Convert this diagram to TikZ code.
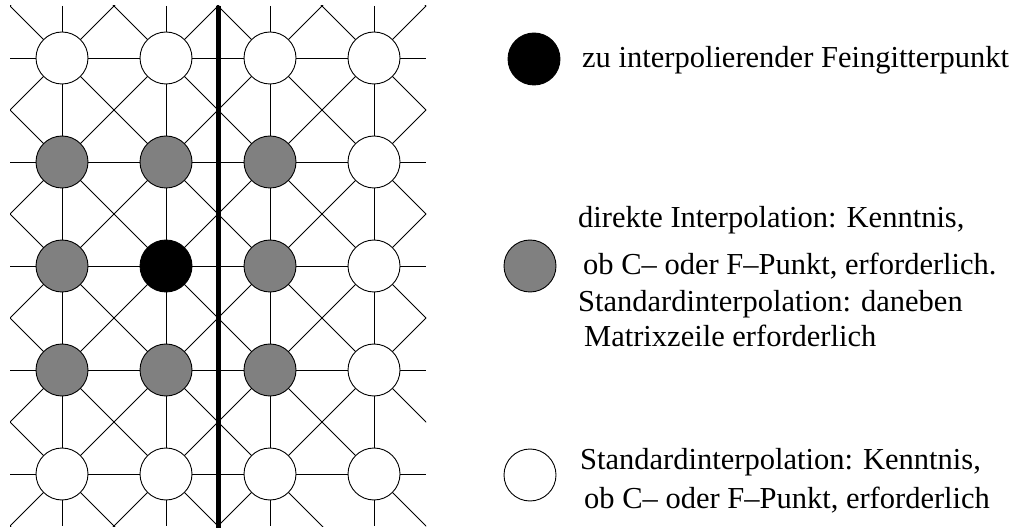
\documentclass[tikz,border=0pt]{standalone}
\usepackage{fontspec}
\setmainfont{Liberation Serif}
\definecolor{midgray}{RGB}{128,128,128}
\begin{document}
\begin{tikzpicture}[x=1pt,y=-1pt,
  gridline/.style={line width=0.9pt,black},
  pt/.style={circle,draw=black,line width=0.9pt,minimum size=52pt,inner sep=0pt},
  ptwhite/.style={pt,fill=white},
  ptgray/.style={pt,fill=midgray},
  ptblack/.style={pt,fill=black},
  legendtext/.style={anchor=base west,inner sep=0pt,font=\fontsize{30.5}{36}\selectfont}]
\useasboundingbox (0,0) rectangle (1031,529);

% orthogonal and diagonal grid lines, clipped to the grid frame
\begin{scope}
  \clip (10,6) rectangle (426,526);
  \foreach \k in {-6,...,6} {
    \draw[gridline] ({62+104*\k-700},{58-700}) -- ({62+104*\k+700},{58+700});
    \draw[gridline] ({62+104*\k-700},{58+700}) -- ({62+104*\k+700},{58-700});
  }
\end{scope}
\foreach \r in {0,...,4}
  \draw[gridline] (10,{58+104*\r}) -- (426,{58+104*\r});
\foreach \c in {0,...,3}
  \draw[gridline] ({62+104*\c},6) -- ({62+104*\c},526);

% separating line
\coordinate (sepTop) at (218.5,6);
\coordinate (sepBot) at (218.5,528);
\draw[line width=4.5pt] (sepTop) -- (sepBot);

% grid points
\foreach \c in {0,...,3} {
  \node[ptwhite] (p0\c) at ({62+104*\c},58) {};
  \node[ptwhite] (p4\c) at ({62+104*\c},474) {};
}
\foreach \r in {1,2,3} {
  \node[ptgray] (p\r0) at (62,{58+104*\r}) {};
  \node[ptgray] (p\r2) at (270,{58+104*\r}) {};
  \node[ptwhite] (p\r3) at (374,{58+104*\r}) {};
}
\node[ptgray] (p11) at (166,162) {};
\node[ptblack] (p21) at (166,266) {};
\node[ptgray] (p31) at (166,370) {};

% legend
\node[ptblack] (lblack) at (534,59) {};
\node[legendtext] (tblack) at (582,68) {zu interpolierender Feingitterpunkt};

\node[ptgray] (lgray) at (530,266) {};
\node[legendtext] (tgray1) at (578,228) {direkte Interpolation: Kenntnis,};
\node[legendtext] (tgray2) at (583,275) {ob C– oder F–Punkt, erforderlich.};
\node[legendtext] (tgray3) at (578,312) {Standardinterpolation: daneben};
\node[legendtext] (tgray4) at (584,347) {Matrixzeile erforderlich};

\node[ptwhite] (lwhite) at (530,475) {};
\node[legendtext] (twhite1) at (580,469) {Standardinterpolation: Kenntnis,};
\node[legendtext] (twhite2) at (584,508) {ob C– oder F–Punkt, erforderlich};
\end{tikzpicture}
\end{document}
